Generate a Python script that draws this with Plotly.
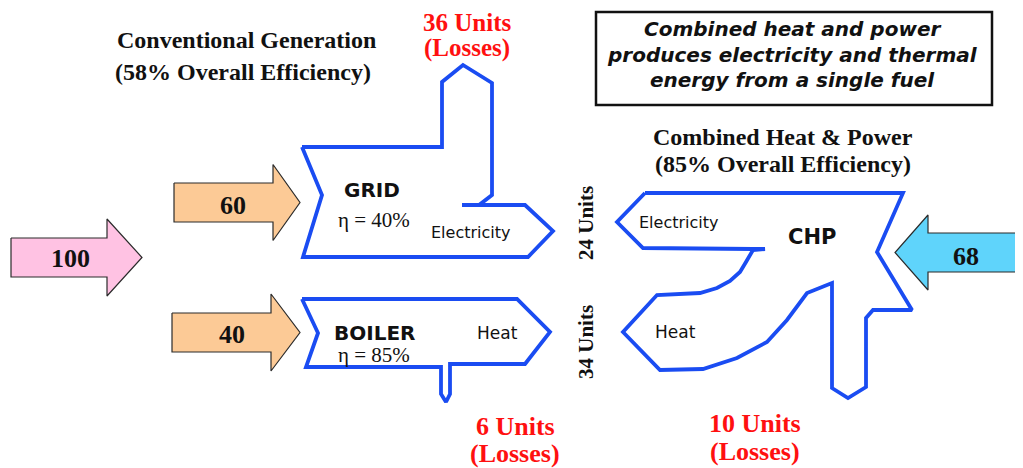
import plotly.graph_objects as go

# ---- values shown in the diagram ----
fuel_input = [100, 60, 40]          # conventional: total, grid share, boiler share
chp_input = [68]                    # CHP fuel
useful_output = [24, 34]            # electricity, heat units
losses = [36, 6, 10]                # grid, boiler, CHP losses
efficiency = {"grid": 40, "boiler": 85, "conventional": 58, "chp": 85}

BLUE = "#1a4cf2"
W, H = 1023, 468
OFF = 8   # page body margin

fig = go.Figure()

def poly(pts, fill=None, line_color=BLUE, width=3.8):
    xs = [p[0] for p in pts] + [pts[0][0]]
    ys = [p[1] for p in pts] + [pts[0][1]]
    fig.add_trace(go.Scatter(
        x=xs, y=ys, mode="lines",
        fill="toself" if fill else "none",
        fillcolor=fill if fill else None,
        line=dict(color=line_color, width=width),
        hoverinfo="skip", showlegend=False))

def arrow(x0, xb, xt, yc, bh, hh, color):
    poly([(x0, yc - bh), (xb, yc - bh), (xb, yc - hh), (xt, yc), (xb, yc + hh),
          (xb, yc + bh), (x0, yc + bh)], fill=color, line_color="#2b2b2b", width=1.2)

# input arrows
arrow(11, 107, 142, 257.5, 19.5, 38.5, "#ffc2e3")
arrow(174, 273, 300, 202.5, 19.5, 38, "#fcca96")
arrow(172, 271, 300, 332.5, 19.5, 38.5, "#fcca96")
arrow(1024, 928, 895, 252.5, 19.5, 37.5, "#5fd4fb")

# GRID outline
poly([(302, 147), (442, 147), (442, 82), (463, 65), (492, 83), (492, 195),
      (479, 205), (462, 205), (479, 205), (525, 205), (553, 231), (528, 257),
      (303, 257), (322, 195)], fill="white")

# BOILER outline
poly([(302, 299), (517, 299), (550, 332), (525, 364), (450, 364), (450, 394),
      (446, 402), (441, 394), (441, 367), (306, 367), (318, 333)], fill="white")

# CHP outline
poly([(645, 193), (903, 193), (877, 252), (912, 310), (873, 310), (866, 318),
      (866, 387), (848, 398), (832, 388), (832, 283),
      (807, 293), (787, 320), (767, 342), (737, 358), (703, 369), (660, 370),
      (623, 332), (657, 295), (700, 293), (717, 288), (730, 281), (740, 272),
      (746, 262), (753, 250), (765, 249), (753, 249), (643, 248), (617, 222)],
     fill="white")

ann = []
def txt(x, y, s, size, color="#111111", family="Liberation Serif", bold=False,
        italic=False, angle=0):
    if bold:
        s = "<b>" + s + "</b>"
    if italic:
        s = "<i>" + s + "</i>"
    ann.append(dict(x=x, y=y, xref="x", yref="y", text=s, showarrow=False,
                    font=dict(size=size, color=color, family=family),
                    textangle=angle, xanchor="center", yanchor="middle"))

SANS = "DejaVu Sans"

# arrow labels
txt(70, 258, str(fuel_input[0]), 26, bold=True)
txt(233, 205, str(fuel_input[1]), 26, bold=True)
txt(232, 334, str(fuel_input[2]), 26, bold=True)
txt(966, 256, str(chp_input[0]), 26, bold=True)

# titles
txt(246, 40, "Conventional Generation", 24, bold=True)
txt(243, 72, f"({efficiency['conventional']}% Overall Efficiency)", 24, bold=True)
txt(783, 137, "Combined Heat &amp; Power", 24, bold=True)
txt(783, 164, f"({efficiency['chp']}% Overall Efficiency)", 24, bold=True)

# box
fig.add_shape(type="rect", x0=596, y0=12, x1=992, y1=105, xref="x", yref="y",
              line=dict(color="#111111", width=2.5), fillcolor="white", layer="below")
for yy, s in zip([29, 55, 80], ["Combined heat and power",
                                "produces electricity and thermal",
                                "energy from a single fuel"]):
    txt(792, yy, s, 20, family=SANS, bold=True, italic=True)

# losses (red)
RED = "#ff1010"
txt(467, 22, f"{losses[0]} Units", 25, color=RED, bold=True)
txt(467, 48, "(Losses)", 25, color=RED, bold=True)
txt(515, 426, f"{losses[1]} Units", 26, color=RED, bold=True)
txt(515, 453, "(Losses)", 26, color=RED, bold=True)
txt(755, 423, f"{losses[2]} Units", 26, color=RED, bold=True)
txt(755, 451, "(Losses)", 26, color=RED, bold=True)

# vertical unit labels
txt(586, 223, f"{useful_output[0]} Units", 21, bold=True, angle=-90)
txt(586, 342, f"{useful_output[1]} Units", 21, bold=True, angle=-90)

# inside-shape labels
txt(372, 190, "GRID", 20, family=SANS, bold=True)
txt(374, 220, f"η = {efficiency['grid']}%", 21)
txt(470, 232, "Electricity", 16, family=SANS)
txt(375, 333, "BOILER", 20, family=SANS, bold=True)
txt(374, 355, f"η = {efficiency['boiler']}%", 21)
txt(497, 333, "Heat", 17, family=SANS)
txt(678, 222, "Electricity", 16, family=SANS)
txt(812, 237, "CHP", 21, family=SANS, bold=True)
txt(675, 332, "Heat", 17, family=SANS)

fig.update_layout(
    width=W - OFF, height=H - OFF, margin=dict(l=0, r=0, t=0, b=0),
    paper_bgcolor="white", plot_bgcolor="white",
    xaxis=dict(range=[OFF, W], visible=False, fixedrange=True),
    yaxis=dict(range=[H, OFF], visible=False, fixedrange=True),
    annotations=ann, showlegend=False)

fig.write_html("out.html")
